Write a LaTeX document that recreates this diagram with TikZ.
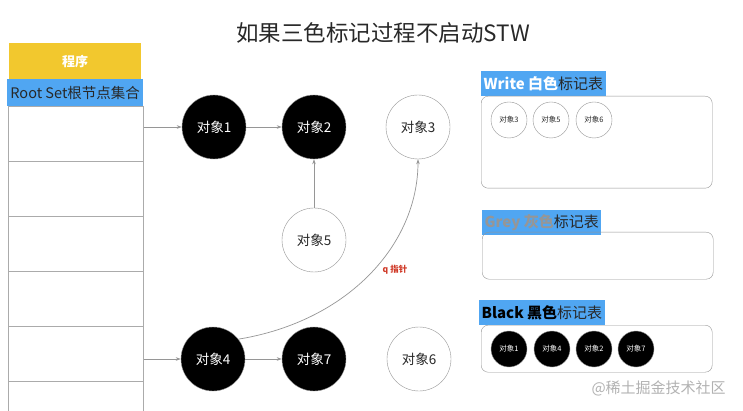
\documentclass[tikz,border=0pt]{standalone}
\usepackage{fontspec}
\setmainfont{Noto Sans CJK SC}
\usetikzlibrary{arrows.meta}
\definecolor{hdryellow}{RGB}{242,200,46}
\definecolor{lblblue}{RGB}{80,166,242}
\definecolor{linegray}{RGB}{150,150,150}
\definecolor{qred}{RGB}{208,58,40}
\definecolor{wmgray}{RGB}{178,178,178}
\definecolor{txtdark}{RGB}{40,40,40}
\begin{document}
\begin{tikzpicture}[x=1pt,y=-1pt,
  bigobj/.style={circle, minimum size=64pt, inner sep=0pt, font=\fontsize{13.5}{13.5}\selectfont},
  blackobj/.style={bigobj, fill=black, draw=linegray, text=white},
  whiteobj/.style={bigobj, fill=white, draw=linegray, text=txtdark},
  smallobj/.style={circle, minimum size=36pt, inner sep=0pt, font=\fontsize{7.5}{7.5}\selectfont},
  sblack/.style={smallobj, fill=black, draw=linegray, text=white},
  swhite/.style={smallobj, fill=white, draw=linegray, text=txtdark},
  cellbox/.style={draw=linegray!80, line width=0.8pt, minimum width=135pt, minimum height=55pt, anchor=north west, inner sep=0pt},
  tablelbl/.style={fill=lblblue, anchor=north west, inner sep=0pt, minimum height=25pt, font=\fontsize{15}{15}\selectfont},
  listbox/.style={draw=linegray, rounded corners=7pt, anchor=north west, minimum width=231pt, inner sep=0pt},
  conn/.style={draw=linegray, line width=0.7pt, -{Stealth[length=5pt,width=3.5pt]}}
]
\clip (0,0) rectangle (743,411);
\fill[white] (0,0) rectangle (743,411);

% title
\node[font=\fontsize{22.5}{22.5}\selectfont, text=txtdark] (title) at (383,33) {如果三色标记过程不启动STW};

% left table
\node[fill=hdryellow, anchor=north west, inner sep=0pt, minimum width=132pt, minimum height=36pt,
      font=\fontsize{13}{13}\selectfont\bfseries, text=white] (prog) at (9,43) {程序};
\node[fill=lblblue, anchor=north west, inner sep=0pt, minimum width=136pt, minimum height=27pt,
      font=\fontsize{14.5}{14.5}\selectfont, text=txtdark] (root) at (7,79) {Root Set根节点集合};
\node[cellbox] (c1) at (8,106) {};
\node[cellbox] (c2) at (8,161) {};
\node[cellbox] (c3) at (8,216) {};
\node[cellbox] (c4) at (8,271) {};
\node[cellbox] (c5) at (8,326) {};
\node[cellbox] (c6) at (8,381) {};

% objects
\node[blackobj] (o1) at (214,127) {对象1};
\node[blackobj] (o2) at (314,127) {对象2};
\node[whiteobj] (o3) at (418,127) {对象3};
\node[whiteobj] (o5) at (314,240) {对象5};
\node[blackobj] (o4) at (213,359) {对象4};
\node[blackobj] (o7) at (314,359) {对象7};
\node[whiteobj] (o6) at (419,359) {对象6};

% connectors
\draw[conn] (c1.east |- o1) -- (o1);
\draw[conn] (o1) -- (o2);
\draw[conn] (o5) -- (o2);
\draw[conn] (c5.east |- o4) -- (o4);
\draw[conn] (o4) -- (o7);
\draw[conn] (o4.38) .. controls +(110,-18) and +(0,85) .. (o3.south);
\node[font=\fontsize{8.5}{8.5}\selectfont\bfseries, text=qred] (q) at (395,270) {q 指针};

% white list
\node[tablelbl] (wl) at (481,71) {\,\textbf{\textcolor{white}{Write 白色}}\textcolor{txtdark}{标记表}\,};
\node[listbox, minimum height=92pt] (wbox) at (481,96) {};
\node[swhite] (w3) at (509,120) {对象3};
\node[swhite] (w5) at (551,120) {对象5};
\node[swhite] (w6) at (594,120) {对象6};

% grey list
\node[tablelbl] (gl) at (482,210) {\,\textbf{\textcolor{linegray}{Grey 灰色}}\textcolor{txtdark}{标记表}\,};
\node[listbox, minimum height=47pt] (gbox) at (482,232) {};

% black list
\node[tablelbl] (bl) at (479,300) {\,\textbf{\textcolor{black}{Black 黑色}}\textcolor{txtdark}{标记表}\,};
\node[listbox, minimum height=47pt] (bbox) at (481,325) {};
\node[sblack] (b1) at (509,349) {对象1};
\node[sblack] (b4) at (552,349) {对象4};
\node[sblack] (b2) at (594,349) {对象2};
\node[sblack] (b7) at (636,349) {对象7};

% watermark
\node[font=\fontsize{15}{15}\selectfont, text=wmgray, anchor=west] (wm) at (588,388) {@稀土掘金技术社区};
\end{tikzpicture}
\end{document}
